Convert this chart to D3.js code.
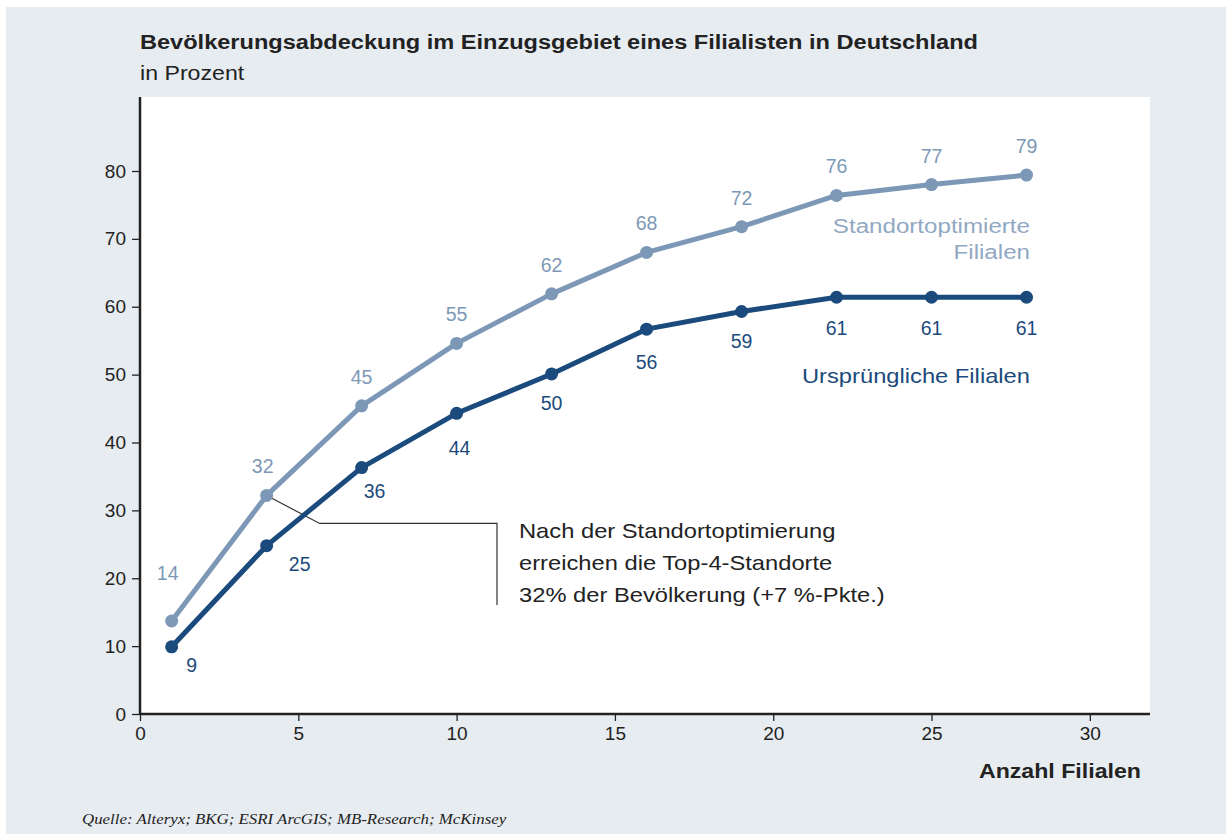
<!DOCTYPE html>
<html>
<head>
<meta charset="utf-8">
<script src="https://cdn.jsdelivr.net/npm/d3@7"></script>
<style>
  html, body { margin: 0; padding: 0; background: #fff; }
  svg { display: block; font-family: "Liberation Sans", Arial, sans-serif; }
</style>
</head>
<body>
<svg id="chart"></svg>
<script>
// data
const filialen = [1, 4, 7, 10, 13, 16, 19, 22, 25, 28];
const optimiert = [13.7, 32.2, 45.4, 54.6, 61.9, 68.0, 71.8, 76.4, 78.0, 79.4];
const optimiertLabels = ['14', '32', '45', '55', '62', '68', '72', '76', '77', '79'];
const urspruenglich = [9.9, 24.8, 36.3, 44.3, 50.1, 56.7, 59.3, 61.4, 61.4, 61.4];
const urspruenglichLabels = ['9', '25', '36', '44', '50', '56', '59', '61', '61', '61'];
const yTicks = [0, 10, 20, 30, 40, 50, 60, 70, 80];
const xTicks = [0, 5, 10, 15, 20, 25, 30];

const lightBlue = '#7d98b6';
const darkBlue = '#1b4a7c';

const width = 1230, height = 834;
const margin = { top: 97, left: 140, right: 80, bottom: 120 };

const svg = d3.select('#chart')
    .attr('width', width)
    .attr('height', height);

// outer panel
svg.append('rect')
    .attr('x', 6).attr('y', 7)
    .attr('width', 1220).attr('height', 827)
    .attr('fill', '#e7ecf0');

const x = d3.scaleLinear()
    .domain([0, 31.9])
    .range([margin.left, width - margin.right]);

const y = d3.scaleLinear()
    .domain([0, 80])
    .range([714, 171]);

// white plot area
svg.append('rect')
    .attr('x', margin.left).attr('y', margin.top)
    .attr('width', x(31.9) - margin.left)
    .attr('height', y(0) - margin.top)
    .attr('fill', '#fff');

// the original font runs wider than Liberation Sans, so stretch text a bit
function wideText(px, py, sx) {
  return svg.append('g')
      .attr('transform', `translate(${px},${py}) scale(${sx},1)`)
    .append('text');
}

// title
wideText(140, 49, 1.15)
    .attr('font-size', 20.5).attr('font-weight', 'bold').attr('fill', '#222')
    .text('Bevölkerungsabdeckung im Einzugsgebiet eines Filialisten in Deutschland');
wideText(140, 80, 1.13)
    .attr('font-size', 20.5).attr('fill', '#222')
    .text('in Prozent');

// axes
const yAxis = d3.axisLeft(y).tickValues(yTicks).tickSize(8).tickPadding(6);
const xAxis = d3.axisBottom(x).tickValues(xTicks).tickSize(7).tickPadding(6);

const yAxisG = svg.append('g')
    .attr('transform', `translate(${margin.left},0)`)
    .call(yAxis);
yAxisG.select('.domain').attr('d', `M0,${margin.top}V${y(0)}`);

const xAxisG = svg.append('g')
    .attr('transform', `translate(0,${y(0)})`)
    .call(xAxis);
xAxisG.select('.domain').attr('d', `M${margin.left},0H${x(31.9)}`);

svg.selectAll('.domain').attr('stroke', '#222').attr('stroke-width', 2.5);
svg.selectAll('.tick line').attr('stroke', '#222').attr('stroke-width', 1.3);
svg.selectAll('.tick text')
    .attr('font-size', 19)
    .attr('fill', '#222')
    .attr('font-family', '"Liberation Sans", Arial, sans-serif');

// x axis title
wideText(1141, 778, 1.13)
    .attr('text-anchor', 'end')
    .attr('font-size', 20.5).attr('font-weight', 'bold').attr('fill', '#222')
    .text('Anzahl Filialen');

// source
wideText(82, 824, 1.125)
    .attr('font-size', 15).attr('font-style', 'italic')
    .attr('font-family', '"Liberation Serif", "DejaVu Serif", serif')
    .attr('fill', '#222')
    .text('Quelle: Alteryx; BKG; ESRI ArcGIS; MB-Research; McKinsey');

// annotation connector (drawn under the lines)
const ax = x(filialen[1]), ay = y(optimiert[1]);
svg.append('path')
    .attr('d', `M${ax},${ay}L${ax + 53},${ay + 28}H497V605`)
    .attr('fill', 'none')
    .attr('stroke', '#333')
    .attr('stroke-width', 1.2);

const line = d3.line()
    .x((d, i) => x(filialen[i]))
    .y(d => y(d));

function drawSeries(values, color) {
  svg.append('path')
      .datum(values)
      .attr('d', line)
      .attr('fill', 'none')
      .attr('stroke', color)
      .attr('stroke-width', 5)
      .attr('stroke-linejoin', 'round');
  svg.append('g').selectAll('circle')
      .data(values)
      .enter()
    .append('circle')
      .attr('cx', (d, i) => x(filialen[i]))
      .attr('cy', d => y(d))
      .attr('r', 6.5)
      .attr('fill', color);
}

drawSeries(optimiert, lightBlue);
drawSeries(urspruenglich, darkBlue);

// value labels
svg.append('g').selectAll('text')
    .data(optimiertLabels)
    .enter()
  .append('text')
    .attr('x', (d, i) => x(filialen[i]) + (i < 2 ? -4 : 0))
    .attr('y', (d, i) => y(optimiert[i]) - (i === 0 ? 41 : 22))
    .attr('text-anchor', 'middle')
    .attr('font-size', 19.5).attr('fill', lightBlue)
    .text(d => d);

const darkDx = [20, 33, 13, 3, 0, 0, 0, 0, 0, 0];
const darkDy = [25, 25, 30, 42, 36, 40, 36, 38, 38, 38];
svg.append('g').selectAll('text')
    .data(urspruenglichLabels)
    .enter()
  .append('text')
    .attr('x', (d, i) => x(filialen[i]) + darkDx[i])
    .attr('y', (d, i) => y(urspruenglich[i]) + darkDy[i])
    .attr('text-anchor', 'middle')
    .attr('font-size', 19.5).attr('fill', darkBlue)
    .text(d => d);

// series labels
wideText(1030, 233, 1.15)
    .attr('text-anchor', 'end')
    .attr('font-size', 21).attr('fill', '#91a8c2')
    .text('Standortoptimierte');
wideText(1030, 259, 1.15)
    .attr('text-anchor', 'end')
    .attr('font-size', 21).attr('fill', '#91a8c2')
    .text('Filialen');
wideText(1030, 383, 1.13)
    .attr('text-anchor', 'end')
    .attr('font-size', 21).attr('fill', darkBlue)
    .text('Ursprüngliche Filialen');

// annotation text
['Nach der Standortoptimierung', 'erreichen die Top-4-Standorte', '32% der Bevölkerung (+7 %-Pkte.)']
  .forEach((t, i) => {
    wideText(519, 538 + i * 32, 1.13)
        .attr('font-size', 21).attr('fill', '#222')
        .text(t);
  });
</script>
</body>
</html>
